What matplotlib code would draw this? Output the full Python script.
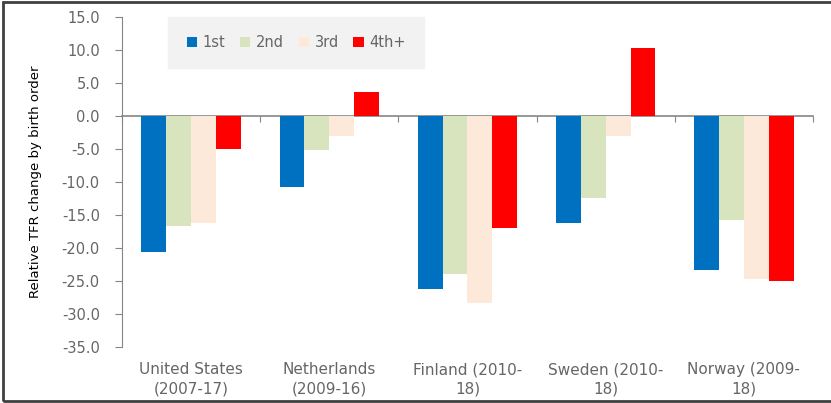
import numpy as np
import matplotlib
matplotlib.use("Agg")
import matplotlib.pyplot as plt
from matplotlib.patches import Rectangle

# data
countries = ["United States\n(2007-17)", "Netherlands\n(2009-16)", "Finland (2010-\n18)",
             "Sweden (2010-\n18)", "Norway (2009-\n18)"]
first = [-20.6, -10.8, -26.2, -16.2, -23.4]
second = [-16.6, -5.2, -24.0, -12.4, -15.8]
third = [-16.2, -3.1, -28.3, -3.1, -24.7]
fourth = [-5.0, 3.6, -17.0, 10.3, -25.0]
series_names = ["1st", "2nd", "3rd", "4th+"]
colors = ["#0070C0", "#D7E4BD", "#FDE9D9", "#FF0000"]

grey = "#666666"
fig = plt.figure(figsize=(8.31, 4.03), dpi=100)
ax = fig.add_axes([0.1468, 0.139, 0.8315, 0.819])

x = np.arange(len(countries))
w = 0.18
for i, (vals, name, c) in enumerate(zip([first, second, third, fourth], series_names, colors)):
    ax.bar(x + (i - 1.5) * w, vals, width=w, color=c, label=name, zorder=2)

ax.set_xlim(-0.5, len(countries) - 0.5)
ax.set_ylim(-35, 15)
ax.set_yticks(np.arange(-35, 16, 5))
ax.set_yticklabels([f"{v:.1f}" for v in np.arange(-35, 16, 5)])
ax.tick_params(axis="y", colors="#868686", labelcolor=grey, labelsize=10.5, length=5, pad=11)

for s in ["top", "right", "bottom"]:
    ax.spines[s].set_visible(False)
ax.spines["left"].set_color("#868686")

# category labels at the bottom
ax.set_xticks(x)
ax.set_xticklabels(countries, fontsize=11, color=grey, linespacing=1.35)
ax.tick_params(axis="x", length=0, pad=11)

# zero line with group tick marks
sec = ax.secondary_xaxis(35 / 50)
sec.xaxis.set_ticks_position("bottom")
sec.set_xticks(np.arange(-0.5, len(countries), 1))
sec.set_xticklabels([])
sec.tick_params(length=4, color="#868686", direction="out")
for s in sec.spines.values():
    s.set_color("#868686")
    s.set_linewidth(1.2)

ax.set_ylabel("Relative TFR change by birth order", fontsize=9.5, color="black", labelpad=14)

leg = ax.legend(ncol=4, loc="upper left", bbox_to_anchor=(0.067, 1.0), frameon=True,
                fontsize=10.5, handlelength=0.7, handleheight=0.7, columnspacing=1.0,
                handletextpad=0.4, borderpad=1.25, borderaxespad=0.0)
leg.get_frame().set_facecolor("#F2F2F2")
leg.get_frame().set_edgecolor("#F2F2F2")
leg.get_frame().set_alpha(1)
leg.get_frame().set_boxstyle("square", pad=0)
for t in leg.get_texts():
    t.set_color(grey)

fig.patches.append(Rectangle((0.004, 0.004), 1.1, 0.99, transform=fig.transFigure,
                             fill=False, edgecolor="#404040", linewidth=2))

fig.savefig("out.png", dpi=100)
